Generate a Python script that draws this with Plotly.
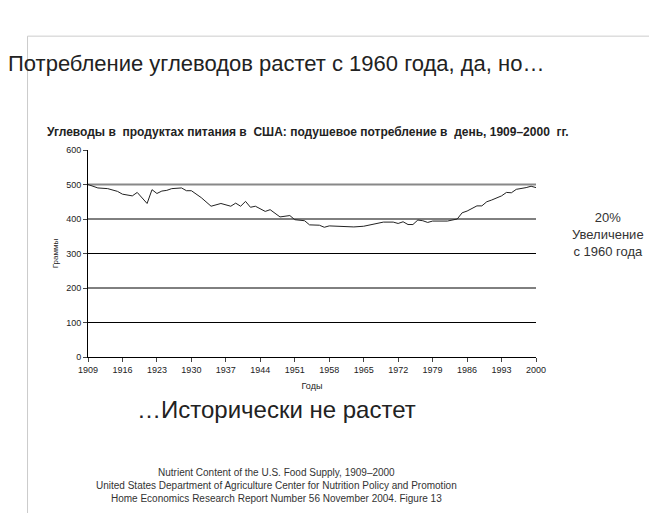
import plotly.graph_objects as go

years = [1909,1911,1913,1915,1916,1918,1919,1921,1922,1923,1924,1925,1926,1928,1929,1930,1932,1934,1936,1938,1939,1940,1941,1942,1943,1945,1946,1948,1950,1951,1953,1954,1956,1957,1958,1961,1963,1965,1967,1969,1971,1972,1973,1974,1975,1976,1977,1978,1979,1982,1984,1985,1986,1988,1989,1990,1991,1993,1994,1995,1996,1997,1998,1999,2000]
grams = [500,490,488,480,472,467,477,445,485,474,481,483,488,490,482,482,462,437,445,437,446,437,451,434,437,422,427,406,410,398,395,383,382,376,380,379,377,379,386,391,391,387,392,384,384,397,395,390,394,394,400,418,423,438,438,450,455,467,477,476,486,488,491,495,491]
xticks = list(range(1909, 2001, 7))
yticks = [0,100,200,300,400,500,600]

fig = go.Figure()
fig.add_trace(go.Scatter(x=years, y=grams, mode="lines", line=dict(color="#222", width=1), showlegend=False))
for v in [100,200,300,400]:
    fig.add_shape(type="line", xref="x", yref="y", x0=1909, x1=2000, y0=v, y1=v, line=dict(color="#000", width=1), layer="below")
fig.add_shape(type="line", xref="x", yref="y", x0=1909, x1=2000, y0=500, y1=500, line=dict(color="#888", width=2), layer="below")
fig.add_shape(type="rect", xref="paper", yref="paper", x0=-0.135, x1=1.27, y0=-0.93, y1=1.55, line=dict(color="#ccc", width=1))

fig.update_layout(
    width=657, height=513, paper_bgcolor="white", plot_bgcolor="white",
    margin=dict(l=80, r=129, t=142, b=164),
    font=dict(family="Liberation Sans, Arial", color="#222"),
    xaxis=dict(range=[1909, 2000], tickvals=xticks, showgrid=False, showline=True, linecolor="#000",
               ticks="outside", ticklen=4, tickfont=dict(size=9), title=dict(text="Годы", font=dict(size=9), standoff=8)),
    yaxis=dict(range=[0, 600], tickvals=yticks, showgrid=False, showline=True, linecolor="#000", zeroline=False,
               ticks="outside", ticklen=4, tickfont=dict(size=9), title=dict(text="Граммы", font=dict(size=8), standoff=6)),
    annotations=[
        dict(text="Потребление углеводов растет с 1960 года, да, но…", xref="paper", yref="paper", x=0.42, y=1.49,
             showarrow=False, font=dict(size=22, color="#222"), xanchor="center"),
        dict(text="<b>Углеводы в  продуктах питания в  США: подушевое потребление в  день, 1909–2000  гг.</b>",
             xref="paper", yref="paper", x=-0.095, y=1.13, showarrow=False, xanchor="left", font=dict(size=12)),
        dict(text="20%<br>Увеличение<br>с 1960 года", xref="paper", yref="paper", x=1.16, y=0.72,
             showarrow=False, font=dict(size=13, color="#333"), xanchor="center", align="center"),
        dict(x=543, y=178, ax=543, ay=216, xref="paper", yref="paper", axref="pixel", ayref="pixel", showarrow=False, text=""),
        dict(text="…Исторически не растет", xref="paper", yref="paper", x=0.42, y=-0.33,
             showarrow=False, font=dict(size=24, color="#222"), xanchor="center"),
        dict(text="Nutrient Content of the U.S. Food Supply, 1909–2000<br>United States Department of Agriculture Center for Nutrition Policy and Promotion<br>Home Economics Research Report Number 56 November 2004. Figure 13",
             xref="paper", yref="paper", x=0.42, y=-0.52, showarrow=False, font=dict(size=10, color="#333"),
             xanchor="center", yanchor="top", align="center"),
    ],
)
fig.layout.annotations = fig.layout.annotations[:3] + fig.layout.annotations[4:]
fig.add_annotation(x=2007, y=400, ax=2007, ay=505, xref="x", yref="y", axref="x", ayref="y",
                   text="", showarrow=True, arrowhead=2, arrowsize=1, arrowwidth=6, arrowcolor="#777")
fig.update_layout(xaxis_range=[1909, 2000])
fig.write_html("out.html")
